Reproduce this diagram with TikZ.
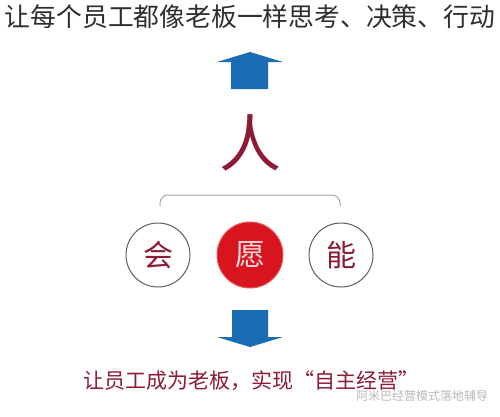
\documentclass[tikz,border=0pt]{standalone}
\usepackage{fontspec}
\newfontfamily\cjk{Noto Sans CJK SC}
\definecolor{arrowblue}{HTML}{1B6DB3}
\definecolor{deepred}{HTML}{8E1B35}
\definecolor{brightred}{HTML}{D8151F}
\definecolor{ringgray}{HTML}{6A5A5E}
\definecolor{titlegray}{HTML}{2E2E2E}
\tikzset{
  ring/.style={circle, draw=ringgray, line width=1pt, minimum size=64pt, inner sep=0pt, text=deepred, font=\cjk\fontsize{30}{30}\selectfont},
  fillring/.style={circle, fill=brightred, draw=brightred!70, line width=1pt, minimum size=66pt, inner sep=0pt, text=white!88!red, font=\cjk\fontsize{30}{30}\selectfont},
  blockarrow/.style={fill=arrowblue, draw=none}
}
\begin{document}
\begin{tikzpicture}[x=1pt,y=-1pt]
\useasboundingbox (0,0) rectangle (500,416);
\fill[white] (0,0) rectangle (500,416);
\node[text=titlegray, font=\cjk\fontsize{25.8}{26}\selectfont, inner sep=0pt] (title) at (250,17) {让每个员工都像老板一样思考、决策、行动};
% up arrow
\fill[blockarrow] (231,89) -- (231,62) -- (217,62) -- (250,52) -- (283,62) -- (268,62) -- (268,89) -- cycle;
\node[text=deepred, font=\cjk\fontsize{62}{62}\selectfont, inner sep=0pt] (ren) at (250,143) {人};
% bracket
\draw[gray!70, line width=1pt, rounded corners=8pt] (160,206) -- (160,195) -- (340,195) -- (340,206);
\node[ring] (hui) at (158,255) {会};
\node[fillring] (yuan) at (250,255) {愿};
\node[ring] (neng) at (341,255) {能};
% down arrow
\fill[blockarrow] (232,310) -- (268,310) -- (268,337) -- (283,337) -- (250,347) -- (217,337) -- (232,337) -- cycle;
\node[text=deepred, font=\cjk\fontsize{21}{22}\selectfont, inner sep=0pt] (bottom) at (251,381) {让员工成为老板，实现“自主经营”};
\node[text=gray!55, font=\cjk\fontsize{12}{12}\selectfont, inner sep=0pt, anchor=west] (wm) at (356,396) {阿米巴经营模式落地辅导};
\end{tikzpicture}
\end{document}
